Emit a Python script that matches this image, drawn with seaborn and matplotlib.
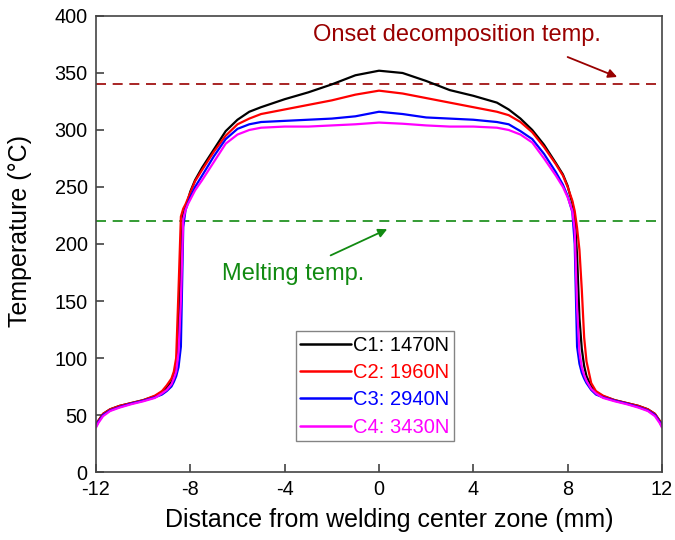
import matplotlib
matplotlib.use("Agg")
import matplotlib.pyplot as plt
import seaborn as sns
import pandas as pd

# Distance from the welding centre (mm)
distance = [-12, -11.9, -11.7, -11.4, -11, -10.5, -10, -9.5, -9.2, -9.0, -8.8, -8.7,
            -8.6, -8.5, -8.4, -8.3, -8.2, -8.1, -8.0, -7.8, -7.5, -7.0, -6.5, -6.0,
            -5.5, -5.0, -4, -3, -2, -1, 0, 1, 2, 3, 4, 5, 5.5, 6, 6.5, 7, 7.5, 7.8,
            8.0, 8.1, 8.2, 8.3, 8.4, 8.5, 8.6, 8.7, 8.8, 9.0, 9.2, 9.5, 10, 10.5, 11,
            11.4, 11.7, 11.9, 12]

# Temperature profiles (°C) for each axial force
temp_c1 = [42, 45, 51, 55, 58, 60.5, 63, 66.5, 70, 74, 79, 84,
           92, 120, 195, 226, 232, 239, 246, 256, 267, 283, 299, 309,
           316, 320, 327, 333, 340, 348, 352, 350, 343, 335, 330, 324, 318, 310, 300, 287, 271, 261,
           251, 243, 236, 224, 190, 135, 108, 93, 84, 75, 70, 66.5, 63, 60.5, 58,
           55, 51, 45, 42]
temp_c2 = [41, 45, 51, 55, 58, 60.5, 63, 67, 71, 76, 82, 88,
           100, 160, 224, 231, 235, 240, 245, 255, 265, 281, 295, 305,
           310, 314, 318, 322, 326, 331, 334.5, 332, 328, 324, 320, 316, 313, 307, 298, 285, 270, 260,
           250, 244, 238, 229, 214, 195, 160, 118, 97, 78, 71, 67, 63, 60.5, 58,
           55, 51, 45, 41]
temp_c3 = [40, 44, 50, 54, 57, 60, 62.5, 65.5, 68, 71, 75, 79,
           84, 92, 110, 215, 230, 236, 241, 250, 260, 277, 292, 301,
           305, 307, 308, 309, 310, 312, 316, 314, 311, 310, 309, 307, 305, 299, 292, 279, 263, 252,
           242, 235, 228, 200, 110, 95, 87, 82, 78, 72, 68, 65.5, 62.5, 60, 57,
           54, 50, 44, 40]
temp_c4 = [39, 43, 49, 53.5, 56.5, 59.5, 62, 65, 69, 72, 77, 82,
           88, 105, 150, 222, 230, 235, 239, 247, 256, 272, 288, 296,
           300, 302, 303, 303, 304, 305, 306.5, 305.5, 304, 303, 303, 302, 300, 296, 289, 275, 260, 250,
           241, 235, 229, 212, 145, 105, 92, 85, 80, 73, 69, 65, 62, 59.5, 56.5,
           53.5, 49, 43, 39]

series_labels = ["C1: 1470N", "C2: 1960N", "C3: 2940N", "C4: 3430N"]
series_colors = ["#000000", "#ff0000", "#0000ff", "#ff00ff"]

# Reference temperatures (°C)
onset_decomposition = 340
melting_point = 220

x_ticks = [-12, -8, -4, 0, 4, 8, 12]
y_ticks = [0, 50, 100, 150, 200, 250, 300, 350, 400]

frames = []
for label, temps in zip(series_labels, [temp_c1, temp_c2, temp_c3, temp_c4]):
    frames.append(pd.DataFrame({"distance": distance, "temperature": temps, "case": label}))
df = pd.concat(frames, ignore_index=True)

sns.set_theme(style="ticks")
plt.rcParams["font.family"] = ["Liberation Sans", "DejaVu Sans"]
plt.rcParams["axes.unicode_minus"] = False
plt.rcParams["text.color"] = "black"
plt.rcParams["axes.labelcolor"] = "black"
plt.rcParams["xtick.labelcolor"] = "black"
plt.rcParams["ytick.labelcolor"] = "black"

fig = plt.figure(figsize=(6.75, 5.4), dpi=100)
ax = fig.add_axes([0.1422, 0.1259, 0.8385, 0.8445])

sns.lineplot(data=df, x="distance", y="temperature", hue="case",
             palette=series_colors, hue_order=series_labels, estimator=None,
             sort=False, linewidth=1.6, ax=ax)

dash = (0, (6, 4))
ax.axhline(onset_decomposition, color="#990000", linewidth=1.2, linestyle=dash, zorder=1)
ax.axhline(melting_point, color="#118a11", linewidth=1.2, linestyle=dash, zorder=1)

ax.text(-2.8, 383, "Onset decomposition temp.", color="#990000", fontsize=17,
        va="center", ha="left")
ax.annotate("", xy=(10.1, 346.5), xytext=(8.0, 364),
            arrowprops=dict(arrowstyle="-|>", color="#990000", lw=1.3,
                            mutation_scale=13, shrinkA=0, shrinkB=0))
ax.text(-6.66, 174, "Melting temp.", color="#118a11", fontsize=17,
        va="center", ha="left")
ax.annotate("", xy=(0.35, 213), xytext=(-2.05, 190),
            arrowprops=dict(arrowstyle="-|>", color="#118a11", lw=1.3,
                            mutation_scale=13, shrinkA=0, shrinkB=0))

ax.set_xlim(-12, 12)
ax.set_ylim(0, 400)
ax.set_xticks(x_ticks)
ax.set_yticks(y_ticks)
ax.tick_params(direction="in", length=6, width=1.1, labelsize=14.3, color="#333333",
               top=False, right=False, pad=6)
for spine in ax.spines.values():
    spine.set_visible(True)
    spine.set_color("#444444")
    spine.set_linewidth(1.2)

ax.set_xlabel("Distance from welding center zone (mm)", fontsize=18)
ax.set_ylabel("Temperature (°C)", fontsize=18)
ax.xaxis.set_label_coords(0.519, -0.078)
ax.yaxis.set_label_coords(-0.113, 0.528)

leg = ax.legend(loc="lower left", bbox_to_anchor=(0.353, 0.068), fontsize=14.5,
                labelcolor="linecolor", frameon=True, fancybox=False,
                edgecolor="#666666", handlelength=2.5, handletextpad=0.12,
                borderpad=0.22, labelspacing=0.41, borderaxespad=0)
leg.get_frame().set_linewidth(1.0)
for line in leg.get_lines():
    line.set_linewidth(1.8)

fig.savefig("out.png", dpi=100)
